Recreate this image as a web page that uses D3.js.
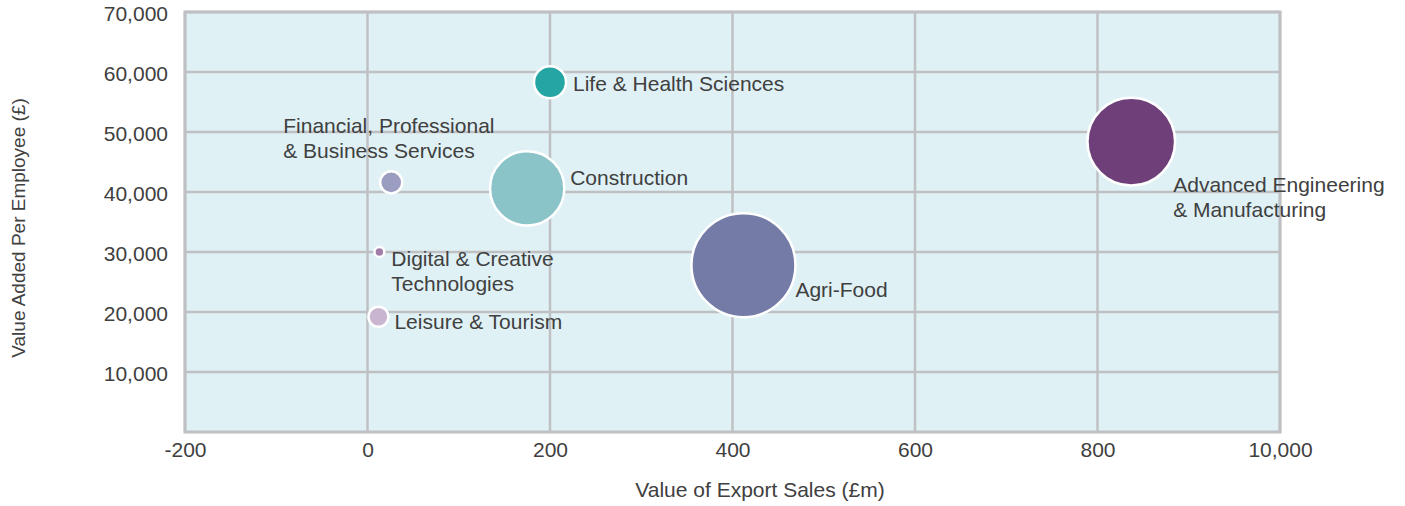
<!DOCTYPE html>
<html>
<head>
<meta charset="utf-8">
<script src="https://cdn.jsdelivr.net/npm/d3@7"></script>
<style>
  body { margin: 0; background: #fff; }
  text { font-family: "Liberation Sans", Arial, sans-serif; fill: #404040; }
</style>
</head>
<body>
<svg id="chart" width="1405" height="506"></svg>
<script>
// Data
var sectors = ["Life & Health Sciences", "Financial, Professional\n& Business Services", "Construction",
  "Digital & Creative\nTechnologies", "Leisure & Tourism", "Agri-Food", "Advanced Engineering\n& Manufacturing"];
var exportSales = [200, 26, 175, 13, 12, 412, 837];
var valuePerEmployee = [58300, 41600, 40600, 30000, 19200, 27800, 48400];
var sizeValue = [9.5, 4.5, 51, 0.9, 3.7, 100, 71];
var colors = ["#26a5a5", "#9a9dc0", "#8ac4c8", "#a07ca8", "#c9b5d0", "#747ba6", "#6f3f79"];

var xTicks = [-200, 0, 200, 400, 600, 800, 1000];
var xTickLabels = ["-200", "0", "200", "400", "600", "800", "10,000"];
var yTicks = [10000, 20000, 30000, 40000, 50000, 60000, 70000];

// label offsets relative to the bubble centre
var labelOffsets = [[23, 9], [-108, -49], [43, -3], [12, 14], [16, 12], [52, 32], [42, 50]];

var svg = d3.select("#chart");
var margin = { left: 185, right: 125, top: 12, bottom: 74 };
var width = 1405, height = 506;

var x = d3.scaleLinear().domain([-200, 1000]).range([margin.left, width - margin.right]);
var y = d3.scaleLinear().domain([0, 70000]).range([height - margin.bottom, margin.top]);
var r = d3.scaleSqrt().domain([0, 100]).range([0, 52]);

// plot background
svg.append("rect")
  .attr("x", x(-200)).attr("y", y(70000))
  .attr("width", x(1000) - x(-200)).attr("height", y(0) - y(70000))
  .attr("fill", "#dff1f5");

// grid
svg.append("g").selectAll("line").data(xTicks).enter().append("line")
  .attr("x1", function(d) { return x(d); }).attr("x2", function(d) { return x(d); })
  .attr("y1", y(0)).attr("y2", y(70000))
  .attr("stroke", "#bfc0c4").attr("stroke-width", 2.5);
svg.append("g").selectAll("line").data(yTicks).enter().append("line")
  .attr("x1", x(-200)).attr("x2", x(1000))
  .attr("y1", function(d) { return y(d); }).attr("y2", function(d) { return y(d); })
  .attr("stroke", "#bfc0c4").attr("stroke-width", 2.5);

svg.append("rect")
  .attr("x", x(-200)).attr("y", y(70000))
  .attr("width", x(1000) - x(-200)).attr("height", y(0) - y(70000))
  .attr("fill", "none").attr("stroke", "#bfc0c4").attr("stroke-width", 3);

// axes
var xAxis = d3.axisBottom(x).tickValues(xTicks)
  .tickFormat(function(d, i) { return xTickLabels[i]; }).tickSize(0).tickPadding(10);
svg.append("g").attr("transform", "translate(0," + y(0) + ")").call(xAxis)
  .call(function(g) { g.select(".domain").remove(); })
  .selectAll("text").style("font-size", "21px").style("fill", "#404040");

var yAxis = d3.axisLeft(y).tickValues(yTicks).tickFormat(d3.format(",")).tickSize(0).tickPadding(17);
svg.append("g").attr("transform", "translate(" + x(-200) + ",2)").call(yAxis)
  .call(function(g) { g.select(".domain").remove(); })
  .selectAll("text").style("font-size", "21px").style("fill", "#404040");

svg.append("text")
  .attr("x", 760).attr("y", 497)
  .attr("text-anchor", "middle").style("font-size", "21px")
  .text("Value of Export Sales (£m)");

svg.append("text")
  .attr("transform", "translate(25," + 228 + ") rotate(-90)")
  .attr("text-anchor", "middle").style("font-size", "19px")
  .text("Value Added Per Employee (£)");

// bubbles
var data = sectors.map(function(s, i) {
  return { name: s, x: exportSales[i], y: valuePerEmployee[i], size: sizeValue[i], color: colors[i], off: labelOffsets[i] };
});

svg.append("g").selectAll("circle").data(data).enter().append("circle")
  .attr("cx", function(d) { return x(d.x); })
  .attr("cy", function(d) { return y(d.y); })
  .attr("r", function(d) { return r(d.size); })
  .attr("fill", function(d) { return d.color; })
  .attr("stroke", "#fff").attr("stroke-width", 2.5);

var labels = svg.append("g").selectAll("text").data(data).enter().append("text")
  .attr("x", function(d) { return x(d.x) + d.off[0]; })
  .attr("y", function(d) { return y(d.y) + d.off[1]; })
  .style("font-size", "21px");
labels.each(function(d) {
  var t = d3.select(this);
  d.name.split("\n").forEach(function(line, j) {
    t.append("tspan")
      .attr("x", x(d.x) + d.off[0])
      .attr("dy", j === 0 ? 0 : 25)
      .text(line);
  });
});
</script>
</body>
</html>
